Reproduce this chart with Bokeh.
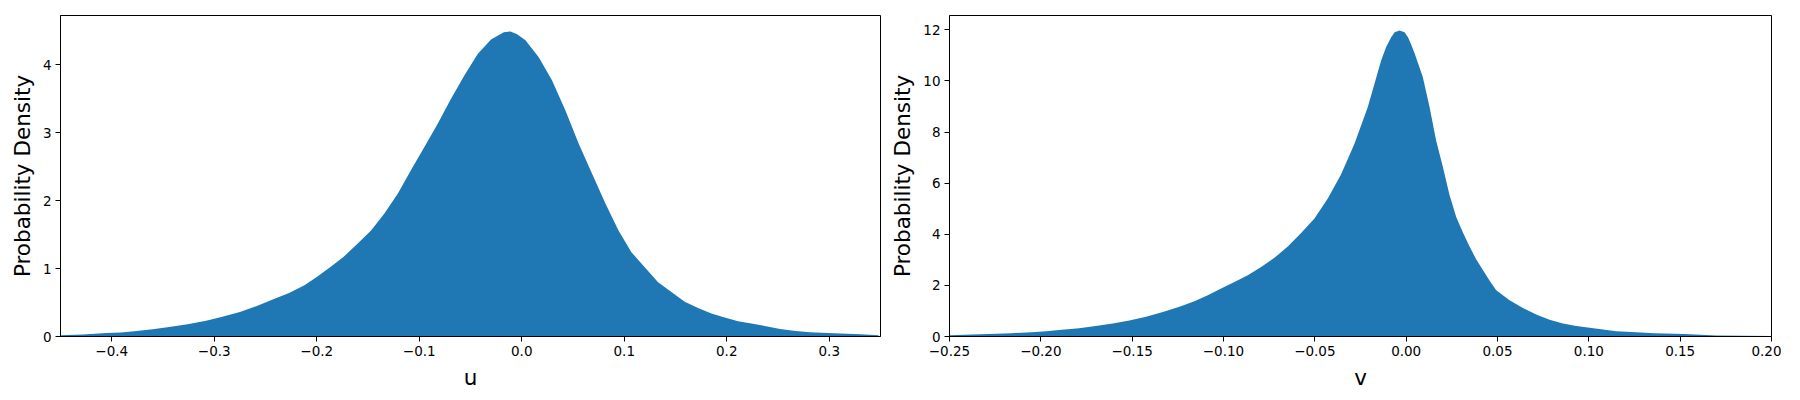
from bokeh.plotting import figure
from bokeh.layouts import row
from bokeh.models import Range1d, FixedTicker
from bokeh.embed import file_html
from bokeh.resources import INLINE

# ---- data (bin position, probability density) ----
u_x = [-0.45, -0.428, -0.405, -0.391, -0.378, -0.36, -0.344, -0.326, -0.308, -0.292,
       -0.275, -0.259, -0.243, -0.227, -0.212, -0.2, -0.187, -0.174, -0.160, -0.147,
       -0.134, -0.121, -0.108, -0.095, -0.082, -0.069, -0.056, -0.043, -0.030, -0.0175,
       -0.011, -0.0045, 0.0036, 0.0166, 0.0296, 0.0425, 0.0555, 0.0685, 0.0815, 0.0944,
       0.107, 0.120, 0.133, 0.146, 0.159, 0.172, 0.185, 0.198, 0.211, 0.224,
       0.237, 0.252, 0.265, 0.281, 0.304, 0.330, 0.348]
u_density = [0.02, 0.03, 0.05, 0.06, 0.078, 0.107, 0.14, 0.18, 0.23, 0.29,
             0.36, 0.445, 0.544, 0.64, 0.754, 0.877, 1.02, 1.17, 1.37, 1.56,
             1.81, 2.10, 2.45, 2.79, 3.13, 3.50, 3.84, 4.16, 4.37, 4.48,
             4.49, 4.45, 4.36, 4.11, 3.77, 3.33, 2.84, 2.40, 1.96, 1.56,
             1.24, 1.02, 0.80, 0.656, 0.51, 0.42, 0.34, 0.28, 0.225, 0.19,
             0.156, 0.11, 0.083, 0.063, 0.048, 0.034, 0.02]

v_x = [-0.25, -0.2327, -0.216, -0.205, -0.197, -0.190, -0.179, -0.170, -0.1606, -0.1515,
       -0.1424, -0.1332, -0.1241, -0.1159, -0.1086, -0.1013, -0.0940, -0.0867, -0.0794, -0.0721,
       -0.0648, -0.0575, -0.0502, -0.0429, -0.0356, -0.0283, -0.0210, -0.0137, -0.0110, -0.0082,
       -0.0063, -0.0036, -0.0009, 0.0010, 0.0029, 0.0047, 0.0091, 0.0128, 0.0164, 0.0201,
       0.0237, 0.0274, 0.0310, 0.0347, 0.0383, 0.0420, 0.0457, 0.0493, 0.0566, 0.0639,
       0.0712, 0.0785, 0.0858, 0.0931, 0.1004, 0.1077, 0.1150, 0.1259, 0.1359, 0.152,
       0.17, 0.2]
v_density = [0.05, 0.09, 0.13, 0.17, 0.21, 0.25, 0.32, 0.41, 0.51, 0.625,
             0.77, 0.96, 1.16, 1.38, 1.61, 1.88, 2.13, 2.40, 2.72, 3.08,
             3.52, 4.05, 4.62, 5.40, 6.35, 7.54, 8.98, 10.80, 11.32, 11.71,
             11.90, 11.97, 11.90, 11.71, 11.40, 11.06, 10.15, 8.98, 7.67, 6.63,
             5.55, 4.68, 4.08, 3.52, 3.02, 2.60, 2.18, 1.81, 1.42, 1.12,
             0.86, 0.66, 0.51, 0.41, 0.34, 0.27, 0.21, 0.17, 0.13, 0.10,
             0.04, 0.02]

u_ticks = [-0.4, -0.3, -0.2, -0.1, 0.0, 0.1, 0.2, 0.3]
u_tick_labels = ["\u22120.4", "\u22120.3", "\u22120.2", "\u22120.1", "0.0", "0.1", "0.2", "0.3"]
v_ticks = [-0.25, -0.20, -0.15, -0.10, -0.05, 0.0, 0.05, 0.10, 0.15, 0.20]
v_tick_labels = ["\u22120.25", "\u22120.20", "\u22120.15", "\u22120.10", "\u22120.05",
                 "0.00", "0.05", "0.10", "0.15", "0.20"]
u_yticks = [0, 1, 2, 3, 4]
v_yticks = [0, 2, 4, 6, 8, 10, 12]

FILL = "#1f77b4"
FONT = "DejaVu Sans"


def make_fig(xs, ys, xr, yr, xticks, xlabels, yticks, xlabel, fw, left, right):
    p = figure(output_backend="svg", toolbar_location=None,
               frame_width=fw, frame_height=321,
               x_range=Range1d(*xr), y_range=Range1d(*yr),
               min_border_left=left, min_border_right=right,
               min_border_top=15, min_border_bottom=58)
    p.varea(x=xs, y1=0, y2=ys, fill_color=FILL, fill_alpha=1.0)
    p.grid.visible = False
    p.outline_line_color = "black"
    p.outline_line_alpha = 1.0
    p.outline_line_width = 1
    p.background_fill_color = "white"
    p.border_fill_color = "white"

    p.xaxis.ticker = FixedTicker(ticks=xticks)
    p.xaxis.major_label_overrides = {t: l for t, l in zip(xticks, xlabels)}
    p.yaxis.ticker = FixedTicker(ticks=yticks)
    p.yaxis.major_label_overrides = {t: str(t) for t in yticks}

    for ax in (p.xaxis[0], p.yaxis[0]):
        ax.axis_line_color = "black"
        ax.major_tick_line_color = "black"
        ax.major_tick_out = 5
        ax.major_tick_in = 0
        ax.minor_tick_line_color = None
        ax.major_label_text_font = FONT
        ax.major_label_text_font_size = "13.5px"
        ax.major_label_text_color = "black"
        ax.major_label_standoff = 4
        ax.axis_label_text_font = FONT
        ax.axis_label_text_font_size = "21.5px"
        ax.axis_label_text_font_style = "normal"
        ax.axis_label_text_color = "black"
        ax.axis_label_standoff = 5
    p.xaxis.axis_label = xlabel
    p.yaxis.axis_label = "Probability Density"
    p.xaxis.axis_label_standoff = 6
    return p


p1 = make_fig(u_x, u_density, (-0.45, 0.35), (0, 4.725), u_ticks, u_tick_labels,
              u_yticks, "u", 820, 60, 7)
p2 = make_fig(v_x, v_density, (-0.25, 0.20), (0, 12.56), v_ticks, v_tick_labels,
              v_yticks, "v", 822, 58, 10)

layout = row(p1, p2)
open("out.html", "w").write(file_html(layout, INLINE))
